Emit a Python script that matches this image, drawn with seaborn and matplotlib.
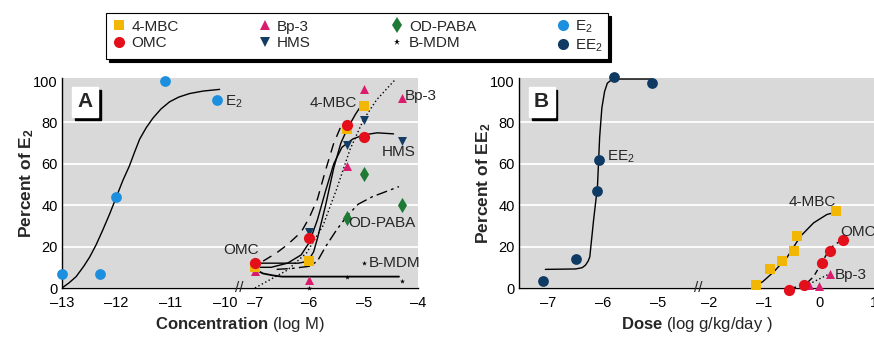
import numpy as np
import pandas as pd
import seaborn as sns
import matplotlib.pyplot as plt
from matplotlib.patches import Rectangle
from matplotlib.lines import Line2D

# ---- Panel A: in vitro, concentration (log M) ----
e2_x = [-13, -12.3, -12, -11.1, -10.15]
e2_y = [7, 7, 44, 100, 91]
e2_curve_x = [-13, -12.87, -12.74, -12.6, -12.49, -12.37, -12.25, -12.12, -12.0, -11.88,
              -11.76, -11.66, -11.57, -11.45, -11.33, -11.18, -11.02, -10.85, -10.65, -10.4, -10.1]
e2_curve_y = [0, 2.5, 5.5, 10.5, 15, 21, 28, 36, 44, 52,
              59, 66, 72, 77.5, 82, 86.5, 90, 92.3, 94, 95.2, 96]

mbc_a_x = [-7, -6, -5.3, -5]
mbc_a_y = [10, 13, 77, 88]
omc_a_x = [-7, -6, -5.3, -5]
omc_a_y = [12, 24, 79, 73]
bp3_a_x = [-7, -6, -5.3, -5, -4.3]
bp3_a_y = [8, 4, 59, 96, 92]
hms_a_x = [-7, -6, -5.3, -5, -4.3]
hms_a_y = [9, 27, 69, 81, 71]
odpaba_a_x = [-7, -5.3, -5, -4.3]
odpaba_a_y = [10, 34, 55, 40]
bmdm_a_x = [-6, -5.3, -5, -4.3]
bmdm_a_y = [0, 5.5, 12, 3.5]

mbc_a_curve_x = [-7, -6.6, -6.2, -6.08, -6.0, -5.92, -5.85, -5.7, -5.55, -5.42, -5.3, -5.15, -5.05]
mbc_a_curve_y = [12, 12, 12, 12.6, 14, 17.5, 24, 40, 58, 70, 77, 84, 88]
omc_a_curve_x = [-6.85, -6.6, -6.4, -6.15, -6.0, -5.85, -5.7, -5.55, -5.42]
omc_a_curve_y = [13, 17, 21, 27, 34, 43, 57, 70, 78]
hms_a_curve_x = [-7, -6.7, -6.4, -6.15, -6.0, -5.85, -5.7, -5.55, -5.4, -5.2, -5.0, -4.75, -4.45]
hms_a_curve_y = [10, 10, 12, 16, 22, 33, 47, 60, 68, 72, 74, 75, 74.5]
bp3_a_curve_x = [-7, -6.4, -6.05, -5.75, -5.5, -5.25, -5.0, -4.76, -4.41]
bp3_a_curve_y = [0, 8.7, 17, 30, 47.6, 67, 81.5, 91, 101]
odpaba_a_curve_x = [-6.6, -6.3, -6.0, -5.85, -5.7, -5.5, -5.3, -5.1, -4.85, -4.6, -4.35]
odpaba_a_curve_y = [9, 9.5, 10.5, 13, 20, 28, 35, 40.5, 44, 46.5, 49]
bmdm_a_curve_x = [-7, -6.85, -6.65, -6.5, -4.35]
bmdm_a_curve_y = [9, 7, 6, 5.5, 5.5]

# ---- Panel B: in vivo, dose (log g/kg/day) ----
ee2_x = [-7.1, -6.5, -6.1, -6.08, -5.8, -5.1]
ee2_y = [3.5, 14, 47, 62, 102, 99]
ee2_curve_x = [-7.05, -6.5, -6.38, -6.32, -6.27, -6.24, -6.17, -6.1, -6.06, -6.02, -5.97, -5.92, -5.85, -5.77, -5.1]
ee2_curve_y = [9, 9.2, 9.8, 11, 13, 15, 33, 49, 73, 87, 95, 99, 100.5, 101, 101]

mbc_b_x = [-1.15, -0.9, -0.67, -0.46, -0.4, 0.3]
mbc_b_y = [1.5, 9, 13, 18, 25, 37]
mbc_b_curve_x = [-1.15, -1.03, -0.82, -0.58, -0.34, -0.1, 0.14, 0.29]
mbc_b_curve_y = [1.5, 3, 8, 15, 25, 31.5, 35.5, 36.6]
omc_b_x = [-0.55, -0.27, 0.05, 0.2, 0.43]
omc_b_y = [-1, 1.5, 12, 18, 23]
omc_b_curve_x = [-0.52, -0.28, -0.1, 0.05, 0.2, 0.4]
omc_b_curve_y = [0, 1, 5.5, 12.3, 19.3, 23]
bp3_b_x = [-0.19, -0.01, 0.2]
bp3_b_y = [1.5, 1, 7]
bp3_b_curve_x = [-0.25, 0.2]
bp3_b_curve_y = [1, 7]

ticks_a = [-13, -12, -11, -10, -7, -6, -5, -4]
ticks_b = [-7, -6, -5, -2, -1, 0, 1]
yticks = [0, 20, 40, 60, 80, 100]

C_MBC = '#F2B705'
C_OMC = '#E3101C'
C_BP3 = '#DB1C6E'
C_HMS = '#143D63'
C_OD = '#1E7A35'
C_E2 = '#1C8FDE'
C_EE2 = '#0E3A64'

sns.set_theme(style='white')
plt.rcParams['font.family'] = ['Liberation Sans', 'DejaVu Sans']
plt.rcParams['mathtext.fontset'] = 'custom'
plt.rcParams['mathtext.rm'] = 'Liberation Sans'
plt.rcParams['mathtext.bf'] = 'Liberation Sans:bold'
plt.rcParams['mathtext.it'] = 'Liberation Sans:italic'


def broken(a, b, g):
    # squeeze the (a, b) interval into a gap of width g
    def fwd(x):
        x = np.asarray(x, dtype=float)
        return np.where(x <= a, x, np.where(x >= b, x - (b - a) + g, a + (x - a) * g / (b - a)))

    def inv(p):
        p = np.asarray(p, dtype=float)
        return np.where(p <= a, p, np.where(p >= a + g, p + (b - a) - g, a + (p - a) * (b - a) / g))
    return fwd, inv


def pts(ax, x, y, marker, color, s):
    sns.scatterplot(x=x, y=y, ax=ax, marker=marker, color=color, s=s, linewidth=0,
                    zorder=4, clip_on=False, legend=False)


def curve(ax, x, y, ls, lw=1.0):
    sns.lineplot(x=x, y=y, ax=ax, color='black', lw=lw, linestyle=ls, sort=False,
                 estimator=None, zorder=3)


def style(ax, xticks, xlim):
    ax.set_facecolor('#D9D9D9')
    ax.set_xticks(xticks)
    ax.set_xticklabels([f'{t}'.replace('-', '\u2013') for t in xticks])
    ax.set_xlim(*xlim)
    ax.set_ylim(0, 101.5)
    ax.set_yticks(yticks)
    ax.yaxis.grid(True, color='white', lw=1.3)
    ax.xaxis.grid(False)
    ax.get_ygridlines()[-1].set_visible(False)
    ax.set_axisbelow(True)
    for sp in ['top', 'right']:
        ax.spines[sp].set_visible(False)
    for sp in ['left', 'bottom']:
        ax.spines[sp].set_color('black')
        ax.spines[sp].set_linewidth(1.0)
    ax.tick_params(length=0, labelsize=10.5, colors='black')
    ax.tick_params(axis='x', pad=6)
    ax.tick_params(axis='y', pad=3)


def letter_box(ax, txt):
    x0, y0, w, h = 0.027, 0.815, 0.073, 0.142
    dx, dy = 3 / 356, 3 / 210
    ax.add_patch(Rectangle((x0 + dx, y0 - dy), w, h, transform=ax.transAxes,
                           color='black', zorder=6))
    ax.add_patch(Rectangle((x0, y0), w, h, transform=ax.transAxes, color='white', zorder=7))
    ax.text(x0 + w / 2, y0 + h / 2, txt, transform=ax.transAxes, ha='center', va='center',
            fontsize=15, fontweight='bold', zorder=8)


fig = plt.figure(figsize=(8.74, 3.37), dpi=100)
axA = fig.add_axes([62 / 874, 49 / 337, 356 / 874, 210 / 337])
axB = fig.add_axes([519 / 874, 49 / 337, 355 / 874, 210 / 337])

# ---- panel A ----
axA.set_xscale('function', functions=broken(-10, -7, 0.55))
curve(axA, e2_curve_x, e2_curve_y, '-')
curve(axA, mbc_a_curve_x, mbc_a_curve_y, '-')
curve(axA, omc_a_curve_x, omc_a_curve_y, (0, (7, 5)))
curve(axA, hms_a_curve_x, hms_a_curve_y, '-')
curve(axA, bp3_a_curve_x, bp3_a_curve_y, (0, (1, 1.8)))
curve(axA, odpaba_a_curve_x, odpaba_a_curve_y, (0, (8, 3, 2, 3)))
curve(axA, bmdm_a_curve_x, bmdm_a_curve_y, '-', lw=1.3)

pts(axA, e2_x, e2_y, 'o', C_E2, 60)
pts(axA, odpaba_a_x, odpaba_a_y, 'd', C_OD, 60)
pts(axA, hms_a_x, hms_a_y, 'v', C_HMS, 42)
pts(axA, bp3_a_x, bp3_a_y, '^', C_BP3, 42)
pts(axA, mbc_a_x, mbc_a_y, 's', C_MBC, 48)
pts(axA, omc_a_x, omc_a_y, 'o', C_OMC, 65)
pts(axA, bmdm_a_x, bmdm_a_y, '*', 'black', 14)

style(axA, ticks_a, (-13, -4))
letter_box(axA, 'A')
axA.text(-8.6, 0, '//', transform=axA.get_xaxis_transform(), ha='center', va='center',
         fontsize=11, clip_on=False, zorder=9)

lab = dict(fontsize=11, zorder=5)
axA.text(-9.97, 90, 'E$_2$', ha='left', va='center', **lab)
axA.text(-5.12, 89.5, '4-MBC', ha='right', va='center', **lab)
axA.text(-4.24, 93, 'Bp-3', ha='left', va='center', **lab)
axA.text(-4.35, 65.5, 'HMS', ha='center', va='center', **lab)
axA.text(-5.29, 31.5, 'OD-PABA', ha='left', va='center', **lab)
axA.text(-4.9, 12, 'B-MDM', ha='left', va='center', **lab)
axA.text(-6.93, 18.5, 'OMC', ha='right', va='center', **lab)

axA.set_xlabel(r'$\mathbf{Concentration}$ (log M)', fontsize=12, labelpad=3)
axA.set_ylabel(r'$\mathbf{Percent\ of\ E_2}$', fontsize=12.5, labelpad=-2)

# ---- panel B ----
axB.set_xscale('function', functions=broken(-5, -2, 0.94))
curve(axB, ee2_curve_x, ee2_curve_y, '-')
curve(axB, mbc_b_curve_x, mbc_b_curve_y, '-')
curve(axB, omc_b_curve_x, omc_b_curve_y, (0, (4, 3)))
curve(axB, bp3_b_curve_x, bp3_b_curve_y, (0, (1, 1.8)))

pts(axB, ee2_x, ee2_y, 'o', C_EE2, 60)
pts(axB, bp3_b_x, bp3_b_y, '^', C_BP3, 42)
pts(axB, mbc_b_x, mbc_b_y, 's', C_MBC, 48)
pts(axB, omc_b_x, omc_b_y, 'o', C_OMC, 65)

style(axB, ticks_b, (-7.53, 1.0))
letter_box(axB, 'B')
axB.text(-2.65, 0, '//', transform=axB.get_xaxis_transform(), ha='center', va='center',
         fontsize=11, clip_on=False, zorder=9)

axB.text(-5.93, 63.5, 'EE$_2$', ha='left', va='center', **lab)
axB.text(-0.13, 41.5, '4-MBC', ha='center', va='center', **lab)
axB.text(0.38, 27, 'OMC', ha='left', va='center', **lab)
axB.text(0.29, 6.5, 'Bp-3', ha='left', va='center', **lab)

axB.set_xlabel(r'$\mathbf{Dose}$ (log g/kg/day )', fontsize=12, labelpad=3)
axB.set_ylabel(r'$\mathbf{Percent\ of\ EE_2}$', fontsize=12.5, labelpad=-2)

# ---- legend ----
def h(marker, color, ms):
    return Line2D([], [], marker=marker, color=color, ls='none', markersize=ms, markeredgewidth=0)

handles = [h('s', C_MBC, 7), h('o', C_OMC, 8), h('^', C_BP3, 7), h('v', C_HMS, 7),
           h('d', C_OD, 8), h('*', 'black', 5), h('o', C_E2, 8), h('o', C_EE2, 8)]
labels = ['4-MBC', 'OMC', 'Bp-3', 'HMS', 'OD-PABA', 'B-MDM', 'E$_2$', 'EE$_2$']
leg = fig.legend(handles, labels, ncol=4, loc='lower left', mode='expand',
                 bbox_to_anchor=(106 / 874, 1 - 59 / 337, 502 / 874, 49 / 337),
                 fontsize=11, frameon=True, fancybox=False, borderaxespad=0,
                 handletextpad=0.3, handlelength=1.0, labelspacing=0.15,
                 borderpad=0.35, shadow={'color': 'black', 'alpha': 1, 'shade': 0},
                 edgecolor='black')
leg.get_frame().set_linewidth(0.8)

fig.savefig('out.png', dpi=100)
